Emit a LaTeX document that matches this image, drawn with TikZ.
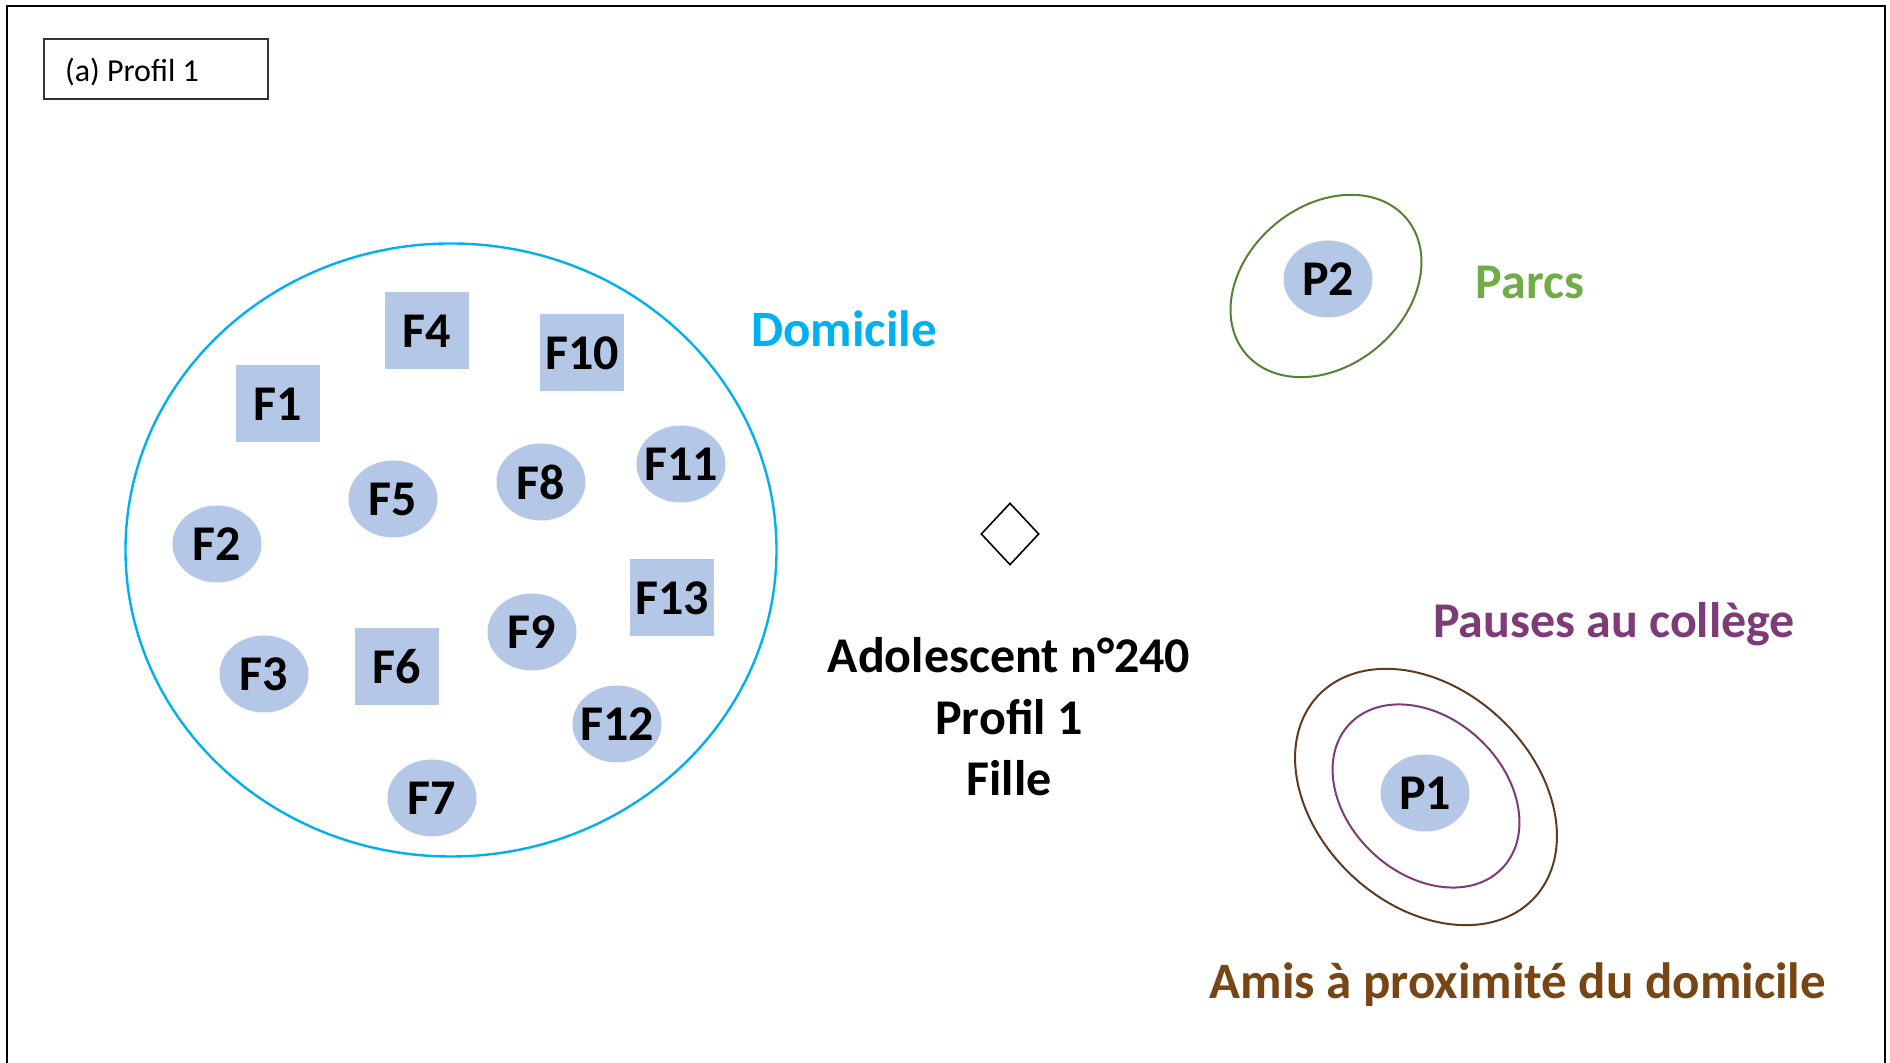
\documentclass[tikz,border=0pt]{standalone}
\usepackage{fontspec}
\setmainfont{Carlito}
\usetikzlibrary{shapes.geometric}
\definecolor{fnode}{RGB}{180,199,231}
\definecolor{domcol}{RGB}{0,176,240}
\definecolor{parcstxt}{RGB}{112,173,71}
\definecolor{parcsline}{RGB}{84,130,53}
\definecolor{pausecol}{RGB}{125,60,120}
\definecolor{amiscol}{RGB}{120,70,20}
\definecolor{amisline}{RGB}{95,60,30}

\begin{document}
\begin{tikzpicture}[x=0.5pt,y=0.5pt,
  lieu/.style={fill=fnode, inner sep=0pt, font=\bfseries\fontsize{25}{30}\selectfont},
  carre/.style={lieu, rectangle, minimum width=42pt, minimum height=38.5pt},
  rond/.style={lieu, ellipse, inner xsep=-3pt, minimum width=44.5pt, minimum height=38.5pt},
  zone/.style={ellipse, draw, inner sep=0pt},
  etiquette/.style={anchor=base, font=\bfseries\fontsize{25}{30}\selectfont}]
\useasboundingbox (0,0) rectangle (1890,1063);
\draw[line width=1pt] (7,0) -- (7,1057) -- (1885,1057) -- (1885,0);

% Titre
\node[draw=black!80, line width=0.6pt, minimum width=112pt, minimum height=30pt] (titre) at (156,994) {};
\node[anchor=base west, font=\fontsize{16}{19}\selectfont] (titretxt) at (58,981) {(a) Profil 1};

% Domicile
\node[zone, draw=domcol, line width=1.2pt, minimum width=325.5pt, minimum height=306.5pt] (zdom) at (451,513) {};
\node[etiquette, text=domcol, font=\bfseries\fontsize{25.5}{30}\selectfont] (ldom) at (844,716) {Domicile};

\node[carre] (f1)  at (278,659) {F1};
\node[rond]  (f2)  at (217,519) {F2};
\node[rond]  (f3)  at (264,389) {F3};
\node[carre] (f4)  at (427,732) {F4};
\node[rond]  (f5)  at (393,564) {F5};
\node[carre] (f6)  at (397,396) {F6};
\node[rond]  (f7)  at (432,265) {F7};
\node[rond]  (f8)  at (541,581) {F8};
\node[rond]  (f9)  at (532,431) {F9};
\node[carre] (f10) at (582,710) {F10};
\node[rond]  (f11) at (681,599) {F11};
\node[rond]  (f12) at (617,339) {F12};
\node[carre] (f13) at (672,465) {F13};

% Adolescent
\node[diamond, draw, line width=0.8pt, inner sep=0pt, minimum width=29pt, minimum height=31pt] (ado) at (1010,529) {};
\node[align=center, font=\bfseries\fontsize{25}{30.75}\selectfont] (adotxt) at (1009,346)
  {Adolescent n°240\\Profil 1\\Fille};

% Parcs
\node[zone, draw=parcsline, line width=1pt, minimum width=105pt, minimum height=80pt, rotate=40] (zparcs) at (1326,777) {};
\node[rond] (p2) at (1328,784) {P2};
\node[etiquette, text=parcstxt] (lparcs) at (1530,764) {Parcs};

% Pauses au college et amis
\node[zone, draw=amisline, line width=1pt, minimum width=148pt, minimum height=108pt, rotate=-43] (zamis) at (1426,266) {};
\node[zone, draw=pausecol, line width=1pt, minimum width=105pt, minimum height=78pt, rotate=-43] (zpauses) at (1426,267) {};
\node[rond] (p1) at (1425,270) {P1};
\node[etiquette, text=pausecol] (lpauses) at (1614,425) {Pauses au collège};
\node[etiquette, text=amiscol, font=\bfseries\fontsize{25.5}{30}\selectfont] (lamis) at (1518,64) {Amis à proximité du domicile};
\end{tikzpicture}
\end{document}
